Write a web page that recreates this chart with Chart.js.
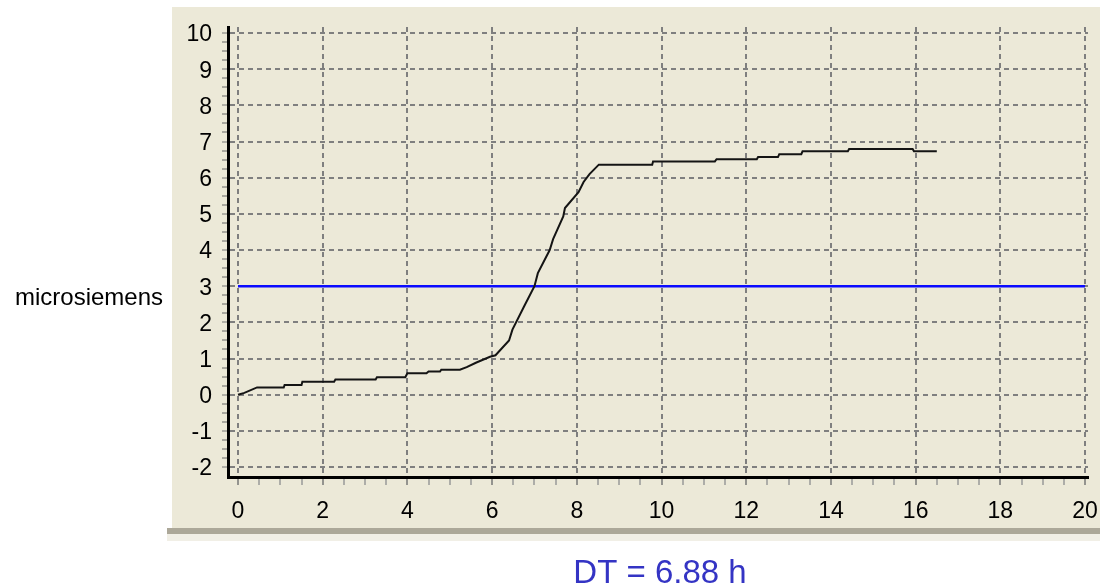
<!DOCTYPE html>
<html>
<head>
<meta charset="utf-8">
<script src="https://cdn.jsdelivr.net/npm/chart.js@4.4.1/dist/chart.umd.min.js"></script>
<style>
    html, body { margin: 0; padding: 0; background: #ffffff; }
    #wrap { position: relative; width: 1100px; height: 586px; }
</style>
</head>
<body>
<div id="wrap"><canvas id="dtChart" width="1100" height="586"></canvas></div>
<script>
// Mesures de conductivité (heures / microsiemens)
const curveX = [0, 0.15, 0.45, 1.08, 1.1, 1.5, 1.52, 2.27, 2.3, 3.25, 3.28, 3.95, 4.0, 4.45, 4.5, 4.77, 4.8, 5.24,
    5.4, 5.63, 5.95, 6.08, 6.4, 6.48, 6.76, 7.0, 7.08, 7.36, 7.44, 7.68, 7.72, 8.04, 8.16, 8.3, 8.52,
    9.78, 9.8, 11.26, 11.3, 12.25, 12.28, 12.75, 12.78, 13.3, 13.33, 14.4, 14.43, 15.93, 15.96, 16.5];
const curveY = [0, 0.05, 0.2, 0.2, 0.27, 0.27, 0.36, 0.36, 0.42, 0.42, 0.48, 0.48, 0.59, 0.59, 0.64, 0.64, 0.69, 0.69,
    0.76, 0.89, 1.05, 1.09, 1.5, 1.8, 2.45, 3.0, 3.36, 4.0, 4.3, 4.93, 5.16, 5.6, 5.88, 6.1, 6.36,
    6.36, 6.45, 6.45, 6.51, 6.51, 6.57, 6.57, 6.65, 6.65, 6.73, 6.73, 6.79, 6.79, 6.73, 6.73];

// Seuil
const thresholdX = [0, 20];
const thresholdY = [3, 3];

// Graduations
const xMajorTicks = [0, 2, 4, 6, 8, 10, 12, 14, 16, 18, 20];
const yMajorTicks = [-2, -1, 0, 1, 2, 3, 4, 5, 6, 7, 8, 9, 10];
const xMinorStep = 0.5;
const yMinorStep = 0.25;

const yLabel = 'microsiemens';
const dtLabel = 'DT = 6.88 h';

function buildTicks(major, step) {
    const ticks = [];
    const first = major[0];
    const last = major[major.length - 1];
    for (let v = first; v <= last + 1e-9; v += step) {
        ticks.push({ value: Math.round(v * 100) / 100 });
    }
    return ticks;
}

const toPoints = (xs, ys) => xs.map((x, i) => ({ x: x, y: ys[i] }));

const gridGray = '#7f7f7f';

// Fond du panneau + textes
const panelPlugin = {
    id: 'panel',
    beforeDraw(chart) {
        const ctx = chart.ctx;
        ctx.save();
        ctx.fillStyle = '#ffffff';
        ctx.fillRect(0, 0, chart.width, chart.height);
        ctx.fillStyle = '#ece9d8';
        ctx.fillRect(172, 7, chart.width - 172, 521);
        ctx.fillStyle = '#aca899';
        ctx.fillRect(167, 528, chart.width - 167, 6);
        ctx.fillStyle = '#f1efe6';
        ctx.fillRect(167, 534, chart.width - 167, 7);
        ctx.restore();
    },
    afterDraw(chart) {
        const ctx = chart.ctx;
        ctx.save();
        ctx.fillStyle = '#000000';
        ctx.font = '24px "Liberation Sans", Arial, sans-serif';
        ctx.textAlign = 'left';
        ctx.textBaseline = 'alphabetic';
        ctx.fillText(yLabel, 15, 305);
        ctx.fillStyle = '#3434c4';
        ctx.font = '33px "Liberation Sans", Arial, sans-serif';
        ctx.textAlign = 'center';
        ctx.fillText(dtLabel, 660, 583);
        ctx.restore();
    }
};

Chart.defaults.font.family = '"Liberation Sans", Arial, sans-serif';

new Chart(document.getElementById('dtChart'), {
    type: 'line',
    data: {
        datasets: [{
            label: 'conductivité',
            data: toPoints(curveX, curveY),
            borderColor: '#141414',
            borderWidth: 2,
            pointRadius: 0,
            tension: 0,
            fill: false
        }, {
            label: 'seuil',
            data: toPoints(thresholdX, thresholdY),
            borderColor: '#0a0aff',
            borderWidth: 2.5,
            pointRadius: 0,
            tension: 0,
            fill: false
        }]
    },
    options: {
        responsive: false,
        animation: false,
        layout: {
            padding: { top: 27, right: 12, bottom: 0, left: 0 }
        },
        plugins: {
            legend: { display: false },
            tooltip: { enabled: false }
        },
        scales: {
            x: {
                type: 'linear',
                min: -0.236,
                max: 20.07,
                afterFit(scale) {
                    scale.height = 109;
                    scale.paddingLeft = 0;
                    scale.paddingRight = 0;
                },
                afterBuildTicks(scale) { scale.ticks = buildTicks(xMajorTicks, xMinorStep); },
                grid: {
                    color: (c) => xMajorTicks.includes(c.tick.value) ? gridGray : 'rgba(0,0,0,0)',
                    lineWidth: 2,
                    tickColor: (c) => xMajorTicks.includes(c.tick.value) ? '#777777' : '#999999',
                    tickLength: 8,
                    tickWidth: 1.5
                },
                border: {
                    display: true,
                    color: '#000000',
                    width: 3,
                    dash: [5, 4]
                },
                ticks: {
                    autoSkip: false,
                    maxRotation: 0,
                    padding: 13,
                    color: '#000000',
                    font: { size: 23 },
                    callback: (v) => xMajorTicks.includes(v) ? String(v) : ''
                }
            },
            y: {
                type: 'linear',
                min: -2.276,
                max: 10.166,
                afterFit(scale) {
                    scale.width = 228;
                    scale.paddingTop = 0;
                    scale.paddingBottom = 0;
                },
                afterBuildTicks(scale) { scale.ticks = buildTicks(yMajorTicks, yMinorStep); },
                grid: {
                    color: (c) => yMajorTicks.includes(c.tick.value) ? gridGray : 'rgba(0,0,0,0)',
                    lineWidth: 2,
                    tickColor: (c) => yMajorTicks.includes(c.tick.value) ? '#777777' : '#666666',
                    tickLength: 6,
                    tickWidth: 1
                },
                border: {
                    display: true,
                    color: '#000000',
                    width: 3,
                    dash: [5, 4]
                },
                ticks: {
                    autoSkip: false,
                    padding: 10,
                    labelOffset: 2,
                    color: '#000000',
                    font: { size: 23 },
                    callback: (v) => yMajorTicks.includes(v) ? String(v) : ''
                }
            }
        }
    },
    plugins: [panelPlugin]
});
</script>
</body>
</html>
